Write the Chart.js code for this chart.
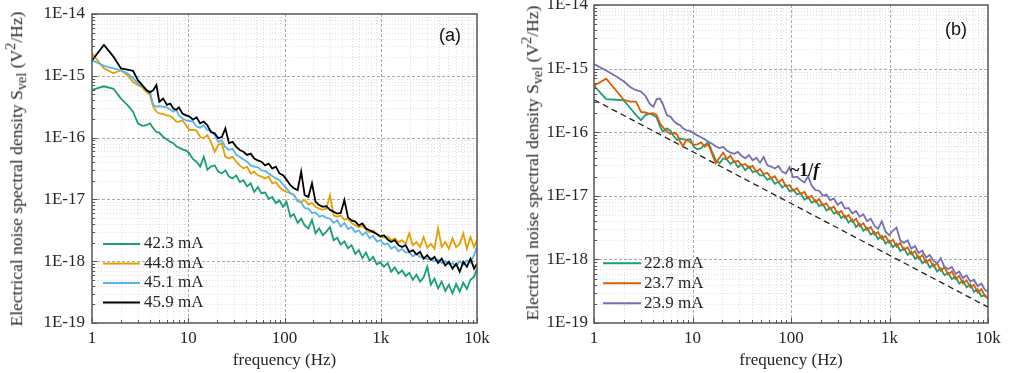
<!DOCTYPE html>
<html>
<head>
<meta charset="utf-8">
<script src="https://cdn.jsdelivr.net/npm/chart.js@4.4.1/dist/chart.umd.min.js"></script>
<style>
  html, body { margin: 0; padding: 0; background: #fff; }
  #wrap { position: relative; width: 1009px; height: 373px; overflow: hidden;
          font-family: 'Liberation Serif', 'Times New Roman', serif; color: #262626; }
  canvas { position: absolute; top: 0; }
  #ca { left: 0; }
  #cb { left: 505px; }
  .ytitle { position: absolute; white-space: nowrap; font-size: 17.5px; line-height: 1;
            transform: translate(-50%, -50%) rotate(-90deg); }
  .ytitle sub, .ytitle sup { font-size: 82%; }
</style>
</head>
<body>
<div id="wrap">
  <canvas id="ca" width="505" height="373"></canvas>
  <canvas id="cb" width="504" height="373"></canvas>
  <div class="ytitle" style="left:16px; top:169px">Electrical noise spectral density S<sub>vel</sub> (V<sup>2</sup>/Hz)</div>
  <div class="ytitle" style="left:532px; top:163px">Electrical noise spectral density S<sub>vel</sub> (V<sup>2</sup>/Hz)</div>
</div>
<script>
// ── datos ─────────────────────────────────────────────────────────────────────
const X_TICKS = [1, 10, 100, 1000, 10000];
const X_TICK_LABELS = ['1', '10', '100', '1k', '10k'];
const Y_TICKS = [1e-19, 1e-18, 1e-17, 1e-16, 1e-15, 1e-14];
const Y_TICK_LABELS = ['1E-19', '1E-18', '1E-17', '1E-16', '1E-15', '1E-14'];

// frecuencias (Hz), comunes a todas las curvas
const FREQ = [
  1, 1.33, 1.67, 2, 2.33, 2.67, 3, 3.33, 3.67, 4,
  4.33, 4.67, 5, 5.5, 6, 6.5, 7, 7.5, 8, 8.7,
  9.5, 10.3, 11.2, 12.2, 13.3, 14.5, 15.8, 17.2, 18.8, 20.5,
  22.3, 24.3, 26.5, 28.9, 31.5, 34.3, 37.4, 40.8, 44.5, 48.5,
  52.8, 57.6, 62.8, 68.4, 74.6, 81.3, 88.6, 96.6, 105, 115,
  125, 137, 149, 162, 177, 193, 210, 229, 250, 272,
  297, 324, 353, 384, 419, 457, 498, 543, 592, 645,
  703, 766, 835, 910, 992, 1081, 1179, 1285, 1400, 1527,
  1664, 1814, 1977, 2155, 2349, 2561, 2791, 3042, 3316, 3615,
  3940, 4295, 4681, 5103, 5562, 6063, 6608, 7203, 7851, 8558,
  9328, 10000,
];

// log10 de S_vel (V²/Hz), panel (a)
const LABELS_A = ['42.3 mA', '44.8 mA', '45.1 mA', '45.9 mA'];
const A_423 = [
  -15.23, -15.17, -15.21, -15.37, -15.47, -15.58, -15.77, -15.81, -15.80, -15.77,
  -15.85, -15.91, -15.92, -15.99, -16.03, -16.07, -16.09, -16.14, -16.16, -16.19,
  -16.21, -16.26, -16.35, -16.39, -16.47, -16.31, -16.52, -16.47, -16.45, -16.55,
  -16.58, -16.53, -16.63, -16.66, -16.61, -16.72, -16.69, -16.79, -16.74, -16.88,
  -16.80, -16.90, -16.89, -16.99, -16.96, -17.06, -17.02, -17.12, -17.04, -17.28,
  -17.24, -17.38, -17.31, -17.42, -17.47, -17.33, -17.55, -17.47, -17.58, -17.52,
  -17.45, -17.66, -17.62, -17.73, -17.68, -17.79, -17.74, -17.88, -17.82, -17.95,
  -17.86, -17.99, -17.93, -18.05, -18.02, -18.09, -18.03, -18.17, -18.10, -18.20,
  -18.15, -18.24, -18.19, -18.30, -18.22, -18.33, -18.26, -18.09, -18.38, -18.28,
  -18.44, -18.33, -18.48, -18.38, -18.52, -18.37, -18.49, -18.35, -18.45, -18.30,
  -18.25, -18.12,
];
const A_448 = [
  -14.64, -14.88, -14.96, -14.91, -14.99, -15.10, -15.15, -15.19, -15.26, -15.31,
  -15.50, -15.58, -15.61, -15.62, -15.64, -15.65, -15.69, -15.74, -15.74, -15.72,
  -15.80, -15.88, -15.87, -15.89, -15.99, -16.01, -15.96, -16.07, -16.23, -16.12,
  -16.09, -16.31, -16.34, -16.31, -16.39, -16.45, -16.50, -16.47, -16.58, -16.55,
  -16.61, -16.63, -16.66, -16.63, -16.74, -16.72, -16.80, -16.85, -16.88, -16.90,
  -16.92, -17.02, -17.04, -17.01, -17.08, -17.06, -17.12, -17.15, -17.17, -17.15,
  -16.93, -17.26, -17.28, -17.26, -17.33, -17.31, -17.38, -17.42, -17.45, -17.43,
  -17.49, -17.53, -17.50, -17.56, -17.60, -17.62, -17.60, -17.66, -17.63, -17.69,
  -17.66, -17.72, -17.55, -17.74, -17.69, -17.77, -17.61, -17.78, -17.72, -17.80,
  -17.47, -17.77, -17.69, -17.80, -17.63, -17.77, -17.72, -17.55, -17.80, -17.61,
  -17.77, -17.66,
];
const A_451 = [
  -14.75, -14.84, -14.88, -14.91, -14.96, -15.04, -15.12, -15.17, -15.22, -15.26,
  -15.47, -15.50, -15.49, -15.50, -15.51, -15.55, -15.58, -15.55, -15.64, -15.69,
  -15.72, -15.73, -15.74, -15.82, -15.84, -15.80, -15.88, -15.89, -15.96, -16.07,
  -16.04, -16.15, -16.20, -16.18, -16.28, -16.31, -16.35, -16.39, -16.45, -16.47,
  -16.48, -16.53, -16.54, -16.58, -16.62, -16.66, -16.69, -16.76, -16.82, -16.90,
  -16.93, -17.03, -17.05, -17.14, -17.15, -17.22, -17.21, -17.28, -17.26, -17.30,
  -17.31, -17.38, -17.34, -17.44, -17.38, -17.48, -17.45, -17.53, -17.50, -17.58,
  -17.53, -17.63, -17.59, -17.68, -17.66, -17.73, -17.71, -17.80, -17.76, -17.84,
  -17.80, -17.86, -17.85, -17.92, -17.88, -17.93, -17.94, -17.97, -17.95, -18.00,
  -17.97, -18.03, -18.00, -18.05, -18.03, -18.08, -18.00, -18.06, -17.99, -18.02,
  -17.90, -17.77,
];
const A_459 = [
  -14.75, -14.50, -14.69, -14.88, -14.90, -14.92, -15.07, -15.15, -15.23, -15.27,
  -15.23, -15.15, -15.42, -15.37, -15.47, -15.45, -15.53, -15.55, -15.51, -15.61,
  -15.64, -15.66, -15.71, -15.67, -15.77, -15.74, -15.80, -15.91, -15.93, -16.01,
  -15.99, -15.85, -16.09, -16.07, -16.15, -16.20, -16.23, -16.28, -16.26, -16.34,
  -16.37, -16.39, -16.45, -16.42, -16.50, -16.47, -16.58, -16.61, -16.68, -16.77,
  -16.82, -16.85, -16.55, -16.93, -16.96, -16.74, -17.04, -17.09, -17.12, -17.11,
  -17.17, -17.20, -17.23, -17.22, -17.01, -17.29, -17.34, -17.36, -17.42, -17.39,
  -17.47, -17.50, -17.53, -17.56, -17.60, -17.58, -17.65, -17.69, -17.66, -17.74,
  -17.77, -17.74, -17.85, -17.82, -17.89, -17.85, -17.96, -17.90, -17.98, -17.93,
  -18.03, -17.96, -18.07, -18.01, -18.12, -18.04, -18.17, -18.01, -18.09, -17.96,
  -18.12, -18.04,
];

// log10 de S_vel (V²/Hz), panel (b)
const LABELS_B = ['22.8 mA', '23.7 mA', '23.9 mA'];
const B_228 = [
  -15.27, -15.48, -15.49, -15.50, -15.62, -15.73, -15.81, -15.73, -15.71, -15.73,
  -15.77, -15.91, -15.99, -15.94, -15.98, -16.07, -16.12, -16.10, -16.11, -16.12,
  -16.11, -16.23, -16.27, -16.25, -16.20, -16.16, -16.31, -16.44, -16.49, -16.41,
  -16.43, -16.50, -16.45, -16.55, -16.51, -16.60, -16.54, -16.63, -16.61, -16.68,
  -16.68, -16.75, -16.72, -16.81, -16.78, -16.87, -16.83, -16.93, -16.90, -16.98,
  -16.96, -17.06, -17.02, -17.11, -17.07, -17.16, -17.13, -17.23, -17.19, -17.28,
  -17.25, -17.35, -17.31, -17.42, -17.37, -17.49, -17.44, -17.55, -17.50, -17.61,
  -17.57, -17.68, -17.63, -17.75, -17.70, -17.81, -17.75, -17.87, -17.82, -17.93,
  -17.88, -17.99, -17.95, -18.06, -18.01, -18.13, -18.08, -18.19, -18.14, -18.25,
  -18.21, -18.31, -18.27, -18.38, -18.33, -18.44, -18.39, -18.51, -18.47, -18.58,
  -18.56, -18.62,
];
const B_237 = [
  -15.27, -15.16, -15.34, -15.49, -15.52, -15.52, -15.68, -15.69, -15.71, -15.70,
  -15.73, -15.86, -15.92, -15.99, -16.03, -16.01, -16.04, -16.15, -16.22, -16.12,
  -16.16, -16.20, -16.19, -16.16, -16.23, -16.19, -16.34, -16.49, -16.40, -16.32,
  -16.42, -16.37, -16.47, -16.45, -16.52, -16.50, -16.56, -16.53, -16.62, -16.58,
  -16.66, -16.64, -16.72, -16.69, -16.79, -16.74, -16.85, -16.83, -16.92, -16.88,
  -16.97, -16.94, -17.04, -17.00, -17.10, -17.05, -17.15, -17.12, -17.21, -17.17,
  -17.28, -17.24, -17.35, -17.30, -17.41, -17.36, -17.48, -17.43, -17.54, -17.49,
  -17.61, -17.57, -17.68, -17.63, -17.74, -17.69, -17.80, -17.74, -17.85, -17.81,
  -17.92, -17.87, -17.99, -17.93, -18.05, -18.00, -18.11, -18.06, -18.18, -18.12,
  -18.24, -18.19, -18.31, -18.26, -18.38, -18.33, -18.44, -18.40, -18.52, -18.47,
  -18.58, -18.60,
];
const B_239 = [
  -14.93, -15.03, -15.12, -15.20, -15.29, -15.34, -15.36, -15.43, -15.55, -15.60,
  -15.48, -15.47, -15.56, -15.73, -15.76, -15.83, -15.87, -15.89, -15.94, -15.97,
  -15.98, -16.02, -16.05, -16.08, -16.11, -16.15, -16.18, -16.22, -16.25, -16.23,
  -16.29, -16.32, -16.34, -16.31, -16.37, -16.41, -16.36, -16.44, -16.40, -16.48,
  -16.39, -16.52, -16.54, -16.57, -16.53, -16.62, -16.65, -16.55, -16.71, -16.70,
  -16.75, -16.79, -16.69, -16.84, -16.91, -16.92, -17.00, -16.98, -17.07, -17.04,
  -17.14, -17.10, -17.20, -17.19, -17.28, -17.24, -17.33, -17.29, -17.40, -17.36,
  -17.47, -17.52, -17.40, -17.56, -17.62, -17.55, -17.50, -17.70, -17.74, -17.70,
  -17.83, -17.79, -17.90, -17.86, -17.97, -17.93, -18.02, -18.06, -17.98, -18.12,
  -18.15, -18.12, -18.23, -18.19, -18.29, -18.25, -18.35, -18.32, -18.42, -18.38,
  -18.48, -18.51,
];

// recta de referencia ~1/f (extremos)
const REF_FREQ = [1, 10000];
const REF_LOG = [-15.49, -18.75];

// ── estilos ───────────────────────────────────────────────────────────────────
const SERIF = "'Liberation Serif', 'Times New Roman', serif";
const SANS = "'Liberation Sans', Arial, sans-serif";
const INK = '#262626';
const AXIS = '#555';

const pts = (freq, logs) => freq.map((f, i) => ({ x: f, y: 10 ** logs[i] }));

function serie(label, logs, color, order) {
  return {
    label, data: pts(FREQ, logs), borderColor: color, borderWidth: 1.8,
    pointRadius: 0, tension: 0, fill: false, order,
  };
}

// rejilla mayor/menor, marco y marcas interiores
const frame = {
  id: 'frame',
  beforeDatasetsDraw(chart) {
    const { ctx, chartArea: a, scales: { x, y } } = chart;
    const px = v => Math.round(v) + 0.5;
    ctx.save();
    ctx.lineWidth = 1;
    const vline = (xx, col, dash) => {
      ctx.strokeStyle = col; ctx.setLineDash(dash);
      ctx.beginPath(); ctx.moveTo(px(xx), a.top); ctx.lineTo(px(xx), a.bottom); ctx.stroke();
    };
    const hline = (yy, col, dash) => {
      ctx.strokeStyle = col; ctx.setLineDash(dash);
      ctx.beginPath(); ctx.moveTo(a.left, px(yy)); ctx.lineTo(a.right, px(yy)); ctx.stroke();
    };
    for (let d = 1; d < 10000; d *= 10) {
      for (let m = 2; m < 10; m++) vline(x.getPixelForValue(d * m), '#dedede', [1, 2]);
    }
    for (let k = -19; k < -14; k++) {
      for (let m = 2; m < 10; m++) hline(y.getPixelForValue(m * 10 ** k), '#dedede', [1, 2]);
    }
    X_TICKS.slice(1, -1).forEach(v => vline(x.getPixelForValue(v), '#aaaaaa', [3, 2]));
    Y_TICKS.slice(1, -1).forEach(v => hline(y.getPixelForValue(v), '#aaaaaa', [3, 2]));
    ctx.restore();
  },
  afterDatasetsDraw(chart) {
    const { ctx, chartArea: a, scales: { x, y } } = chart;
    ctx.save();
    ctx.strokeStyle = AXIS;
    ctx.lineWidth = 1;
    ctx.setLineDash([]);
    ctx.beginPath();
    for (let d = 1; d <= 10000; d *= 10) {
      for (let m = 1; m < 10; m++) {
        if (d * m > 10000) break;
        const xx = Math.round(x.getPixelForValue(d * m)) + 0.5;
        ctx.moveTo(xx, a.bottom); ctx.lineTo(xx, a.bottom - (m === 1 ? 5 : 3));
      }
    }
    for (let k = -19; k <= -14; k++) {
      for (let m = 1; m < 10; m++) {
        if (k === -14 && m > 1) break;
        const yy = Math.round(y.getPixelForValue(m * 10 ** k)) + 0.5;
        ctx.moveTo(a.left, yy); ctx.lineTo(a.left + (m === 1 ? 5 : 3), yy);
      }
    }
    ctx.stroke();
    ctx.lineWidth = 1.5;
    ctx.strokeRect(a.left, a.top, a.right - a.left, a.bottom - a.top);
    ctx.restore();
  },
};

// leyenda y rótulos dentro del área
const notes = {
  id: 'notes',
  afterDraw(chart, args, o) {
    const { ctx } = chart;
    ctx.save();
    ctx.textBaseline = 'middle';
    ctx.font = `17px ${SERIF}`;
    o.rows.forEach((row, i) => {
      const ds = chart.data.datasets[i];
      ctx.strokeStyle = ds.borderColor; ctx.lineWidth = 2;
      ctx.beginPath(); ctx.moveTo(o.x0, row); ctx.lineTo(o.x1, row); ctx.stroke();
      ctx.fillStyle = INK; ctx.textAlign = 'left';
      ctx.fillText(ds.label, o.tx, row);
    });
    ctx.font = `18px ${SANS}`;
    ctx.textAlign = 'center';
    ctx.fillStyle = '#111';
    ctx.fillText(o.tag, o.tagX, o.tagY);
    if (o.slope) {
      ctx.textAlign = 'left';
      ctx.font = `bold 18px ${SERIF}`;
      const s = '~1/';
      ctx.fillText(s, o.slope[0], o.slope[1]);
      const w = ctx.measureText(s).width;
      ctx.font = `italic bold 18px ${SERIF}`;
      ctx.fillText('f', o.slope[0] + w, o.slope[1]);
    }
    ctx.restore();
  },
};

function axes(yWidth, yPad) {
  const font = { family: SERIF, size: 17 };
  return {
    x: {
      type: 'logarithmic', min: 1, max: 10000,
      afterBuildTicks: s => { s.ticks = X_TICKS.map(v => ({ value: v })); },
      afterFit: s => { s.height = 50; s.paddingLeft = 0; s.paddingRight = 0; },
      grid: { display: false, drawTicks: false },
      border: { display: false },
      ticks: { color: INK, font, padding: 5, maxRotation: 0, autoSkip: false, callback: (v, i) => X_TICK_LABELS[i] },
      title: { display: true, text: 'frequency (Hz)', color: INK, font, padding: { top: 0, bottom: 2 } },
    },
    y: {
      type: 'logarithmic', min: 1e-19, max: 1e-14,
      afterBuildTicks: s => { s.ticks = Y_TICKS.map(v => ({ value: v })); },
      afterFit: s => { s.width = yWidth; s.paddingTop = 0; s.paddingBottom = 0; },
      grid: { display: false, drawTicks: false },
      border: { display: false },
      ticks: { color: INK, font, padding: yPad, autoSkip: false, callback: (v, i) => Y_TICK_LABELS[i] },
    },
  };
}

const BASE = {
  responsive: false,
  animation: false,
  events: [],
  plugins: { legend: { display: false }, tooltip: { enabled: false } },
};

// ── panel (a) ─────────────────────────────────────────────────────────────────
new Chart(document.getElementById('ca'), {
  type: 'line',
  data: {
    datasets: [
      serie(LABELS_A[0], A_423, '#1b9e77', 3),
      serie(LABELS_A[1], A_448, '#e69f00', 2),
      serie(LABELS_A[2], A_451, '#56b4e9', 1),
      serie(LABELS_A[3], A_459, '#000000', 0),
    ],
  },
  options: {
    ...BASE,
    layout: { autoPadding: false, padding: { left: 0, right: 28, top: 14, bottom: 0 } },
    scales: axes(92, 7),
    plugins: {
      ...BASE.plugins,
      notes: { rows: [244, 263.5, 283, 302.5], x0: 103, x1: 140, tx: 144, tag: '(a)', tagX: 450, tagY: 36 },
    },
  },
  plugins: [frame, notes],
});

// ── panel (b) ─────────────────────────────────────────────────────────────────
new Chart(document.getElementById('cb'), {
  type: 'line',
  data: {
    datasets: [
      serie(LABELS_B[0], B_228, '#1b9e77', 3),
      serie(LABELS_B[1], B_237, '#d95f02', 2),
      serie(LABELS_B[2], B_239, '#7570b3', 1),
      {
        label: '1/f', data: pts(REF_FREQ, REF_LOG), borderColor: '#222', borderWidth: 1.3,
        borderDash: [6, 4], pointRadius: 0, tension: 0, fill: false, order: 4,
      },
    ],
  },
  options: {
    ...BASE,
    layout: { autoPadding: false, padding: { left: 0, right: 21, top: 5, bottom: 0 } },
    scales: axes(89, 6),
    plugins: {
      ...BASE.plugins,
      notes: { rows: [263.3, 283.3, 303.3], x0: 98, x1: 136, tx: 139, tag: '(b)', tagX: 451, tagY: 30, slope: [285, 171] },
    },
  },
  plugins: [frame, notes],
});
</script>
</body>
</html>
